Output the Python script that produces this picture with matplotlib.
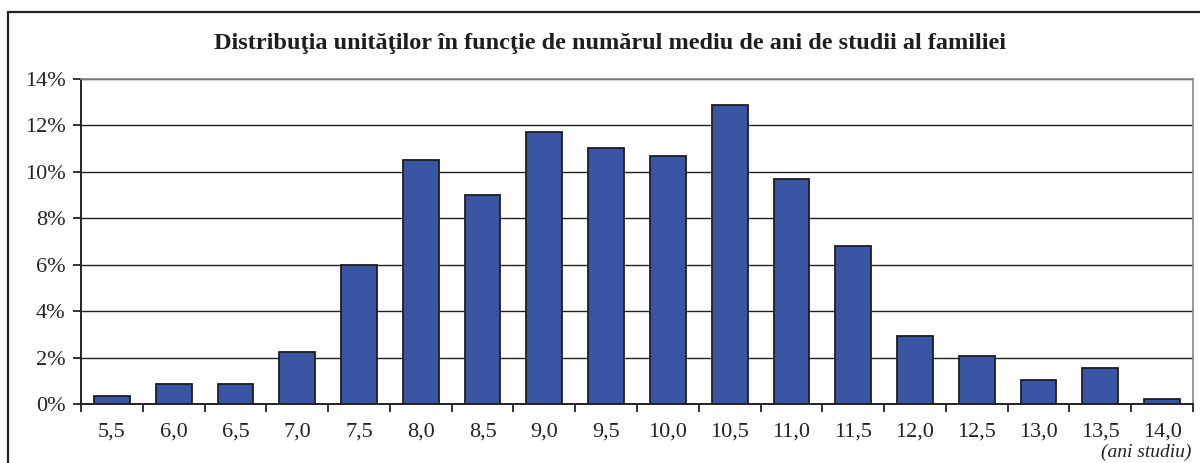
import matplotlib
matplotlib.use("Agg")
import matplotlib.pyplot as plt
from matplotlib.patches import Rectangle
from matplotlib.ticker import FuncFormatter, FixedLocator
import numpy as np

# -- Data --------------------------------------------------------------------
years = ["5,5", "6,0", "6,5", "7,0", "7,5", "8,0", "8,5", "9,0", "9,5",
         "10,0", "10,5", "11,0", "11,5", "12,0", "12,5", "13,0", "13,5", "14,0"]
shares = [0.34, 0.87, 0.87, 2.24, 5.97, 10.52, 9.00, 11.72, 11.04,
          10.68, 12.86, 9.70, 6.80, 2.92, 2.07, 1.03, 1.56, 0.20]

BAR_BLUE = "#3A54A4"
EDGE = "#1E1E1E"

plt.rcParams["font.family"] = ["Liberation Serif", "DejaVu Serif"]

fig = plt.figure(figsize=(12, 4.63), dpi=100)
fig.patch.set_facecolor("white")

# outer frame
fig.patches.append(Rectangle((8 / 1200, -0.01), 1.0, (463 - 12) / 463 + 0.01,
                             transform=fig.transFigure, fill=False,
                             edgecolor="#222222", linewidth=1.6))

ax = fig.add_axes([81 / 1200, (463 - 404) / 463,
                   (1193 - 81) / 1200, (404 - 79) / 463])

x = np.arange(len(years))
ax.bar(x, shares, width=0.58, color=BAR_BLUE, edgecolor=EDGE,
       linewidth=1.3, zorder=3)

ax.set_xlim(-0.5, len(years) - 0.5)
ax.set_ylim(0, 14)
ax.set_yticks(np.arange(0, 15, 2))
ax.yaxis.set_major_formatter(FuncFormatter(lambda v, p: f"{v:.0f}%"))
ax.grid(axis="y", color="#222222", linewidth=1.0, zorder=0)

ax.set_xticks(x)
ax.set_xticklabels(years)
ax.xaxis.set_minor_locator(FixedLocator(np.arange(-0.5, len(years), 1)))
ax.tick_params(axis="x", which="major", length=0, pad=13, labelsize=16,
               colors="#222222")
ax.tick_params(axis="x", which="minor", length=6, width=1.3,
               direction="out", color="#222222")
ax.tick_params(axis="y", length=6, width=1.3, direction="out",
               labelsize=16, colors="#222222", pad=5)

for side in ["top", "right"]:
    ax.spines[side].set_color("#888888")
    ax.spines[side].set_linewidth(1.2)
for side in ["left", "bottom"]:
    ax.spines[side].set_color("#222222")
    ax.spines[side].set_linewidth(1.4)

fig.text((133 + 1087) / 2 / 1200, (463 - 43) / 463,
         "Distribuţia unităţilor în funcţie de numărul mediu de ani de studii al familiei",
         ha="center", va="center", fontsize=17.5, fontweight="bold",
         color="#1E1E1E")

fig.text(1191 / 1200, (463 - 452) / 463, "(ani studiu)",
         ha="right", va="center", fontsize=14, style="italic",
         color="#222222")

fig.savefig("out.png", dpi=100, facecolor="white")
